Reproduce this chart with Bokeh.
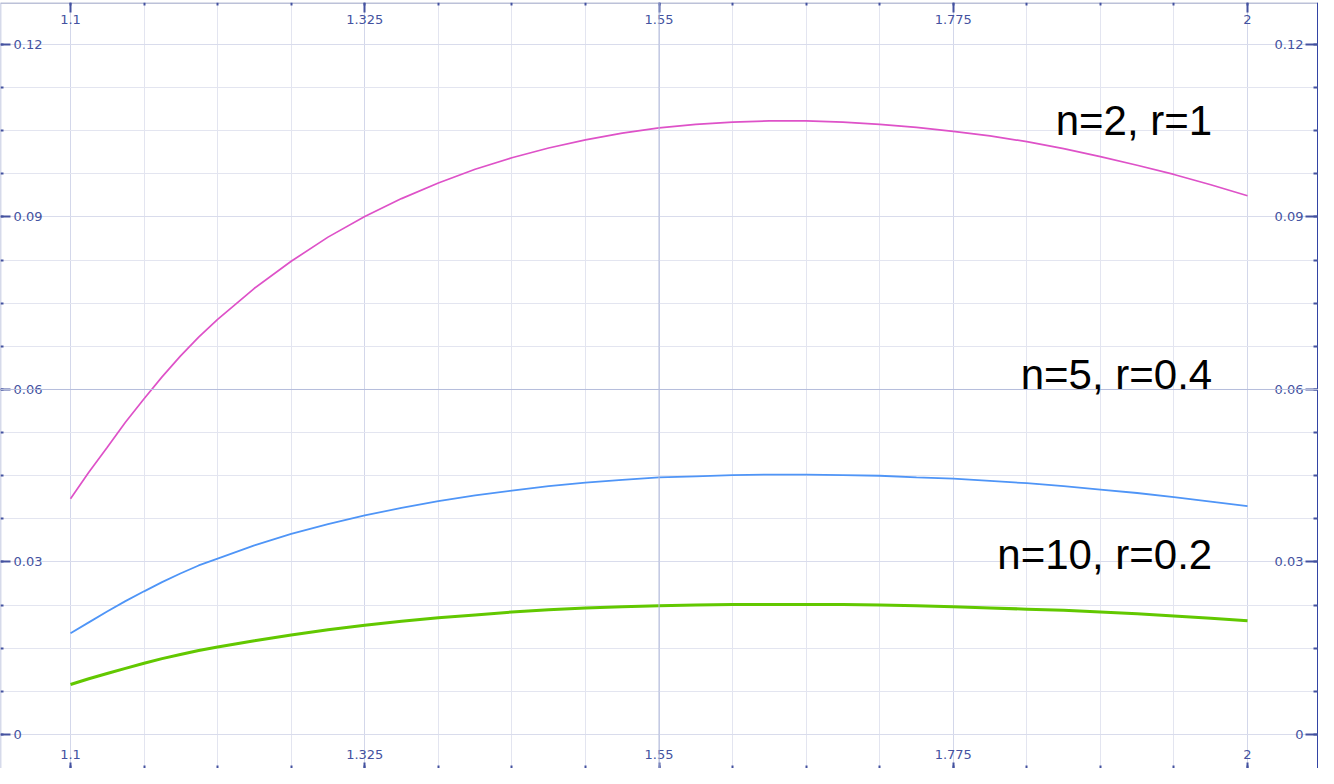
from bokeh.plotting import figure
from bokeh.models import (LinearAxis, FixedTicker, Range1d, Label, Span, Grid)
from bokeh.embed import file_html
from bokeh.resources import INLINE

# ---- data ----
x_vals = [1.1, 1.114, 1.128, 1.142, 1.15625, 1.170, 1.184, 1.198, 1.2125,
          1.2406, 1.26875, 1.2969, 1.325, 1.3531, 1.38125, 1.4094, 1.4375,
          1.4656, 1.49375, 1.5219, 1.55, 1.5781, 1.60625, 1.6344, 1.6625,
          1.6906, 1.71875, 1.7469, 1.775, 1.8031, 1.83125, 1.8594, 1.8875,
          1.9156, 1.94375, 1.9719, 2.0]
pink_vals = [0.0410, 0.0456, 0.0499, 0.0543, 0.0584, 0.0622, 0.0658, 0.0691,
             0.0722, 0.0776, 0.0823, 0.0865, 0.0901, 0.0932, 0.0959, 0.0983,
             0.1003, 0.1020, 0.1034, 0.1046, 0.1055, 0.1061, 0.1065, 0.1067,
             0.1067, 0.1065, 0.1061, 0.1056, 0.1049, 0.1041, 0.1031, 0.1019,
             0.1005, 0.0990, 0.0974, 0.0956, 0.0937]
blue_vals = [0.0176, 0.0195, 0.0214, 0.0232, 0.0249, 0.0265, 0.0280, 0.0294,
             0.0306, 0.0329, 0.0349, 0.0366, 0.0381, 0.0394, 0.0406, 0.0416,
             0.0424, 0.0432, 0.0438, 0.0443, 0.0447, 0.0449, 0.0451, 0.0452,
             0.0452, 0.0451, 0.0450, 0.0447, 0.0445, 0.0441, 0.0437, 0.0432,
             0.0426, 0.0420, 0.0413, 0.0405, 0.0397]
green_vals = [0.0087, 0.0097, 0.0106, 0.0115, 0.0124, 0.0132, 0.0139, 0.0146,
              0.0152, 0.0163, 0.0173, 0.0182, 0.0190, 0.0197, 0.0203, 0.0208,
              0.0213, 0.0217, 0.0220, 0.0222, 0.0224, 0.0225, 0.0226, 0.0226,
              0.0226, 0.0226, 0.0225, 0.0224, 0.0222, 0.0220, 0.0218, 0.0216,
              0.0213, 0.0210, 0.0206, 0.0202, 0.0198]
series_labels = ["n=2, r=1", "n=5, r=0.4", "n=10, r=0.2"]

x_ticks = [1.1, 1.325, 1.55, 1.775, 2.0]
x_tick_labels = ["1.1", "1.325", "1.55", "1.775", "2"]
x_minor = [1.04375, 1.1, 1.15625, 1.2125, 1.26875, 1.325, 1.38125, 1.4375,
           1.49375, 1.55, 1.60625, 1.6625, 1.71875, 1.775, 1.83125, 1.8875,
           1.94375, 2.0]
y_ticks = [0.0, 0.03, 0.06, 0.09, 0.12]
y_tick_labels = ["0", "0.03", "0.06", "0.09", "0.12"]
y_minor = [0.0, 0.0075, 0.015, 0.0225, 0.03, 0.0375, 0.045, 0.0525, 0.06,
           0.0675, 0.075, 0.0825, 0.09, 0.0975, 0.105, 0.1125, 0.12]

X0, X1 = 1.04647, 2.05429
Y0, Y1 = -0.005913, 0.127304

p = figure(width=1318, height=768, output_backend="svg", toolbar_location=None,
           x_range=Range1d(X0, X1), y_range=Range1d(Y0, Y1),
           x_axis_location=None, y_axis_location=None,
           min_border_left=0, min_border_right=0, min_border_top=2,
           min_border_bottom=0)
p.outline_line_color = None
p.background_fill_color = "white"
p.border_fill_color = "white"
p.center = []

xt = FixedTicker(ticks=x_ticks, minor_ticks=x_minor)
yt = FixedTicker(ticks=y_ticks, minor_ticks=y_minor)
gx = Grid(dimension=0, ticker=xt, grid_line_color="#d3d7ea", grid_line_width=1,
          minor_grid_line_color="#e3e5f0", minor_grid_line_width=1)
gy = Grid(dimension=1, ticker=yt, grid_line_color="#d9dcec", grid_line_width=1,
          minor_grid_line_color="#e3e5f0", minor_grid_line_width=1)
p.add_layout(gx)
p.add_layout(gy)
p.add_layout(Span(location=x_ticks[2], dimension="height", line_color="#b6bedc", line_width=1))
p.add_layout(Span(location=y_ticks[2], dimension="width", line_color="#b6bedc", line_width=1))

# curves
p.line(x_vals, pink_vals, line_color="#de52c8", line_width=1.7)
p.line(x_vals, blue_vals, line_color="#4f95f7", line_width=1.8)
p.line(x_vals, green_vals, line_color="#62c800", line_width=3)

label_color = "#4452a0"
font = "DejaVu Sans"

def style(ax, tick_out, minor_out, standoff):
    ax.major_tick_out = tick_out
    ax.major_tick_in = 0
    ax.minor_tick_out = minor_out
    ax.minor_tick_in = 0
    ax.major_label_standoff = standoff
    ax.major_label_text_font = font
    ax.major_label_text_font_size = "13px"
    ax.major_label_text_color = label_color
    ax.major_tick_line_color = "#4452a0"
    ax.minor_tick_line_color = "#4452a0"
    ax.major_tick_line_width = 2
    ax.minor_tick_line_width = 2

top = LinearAxis(ticker=FixedTicker(ticks=x_ticks, minor_ticks=x_minor),
                 major_label_overrides=dict(zip(x_ticks, x_tick_labels)),
                 fixed_location=Y1)
style(top, 10, 3, 2)
top.axis_line_color = "#bcc1d8"
top.axis_line_width = 3
p.add_layout(top, "below")

bot = LinearAxis(ticker=FixedTicker(ticks=x_ticks, minor_ticks=x_minor),
                 major_label_overrides=dict(zip(x_ticks, x_tick_labels)),
                 fixed_location=Y0)
style(bot, 6, 3, 4)
bot.axis_line_color = None
p.add_layout(bot, "above")

lft = LinearAxis(ticker=FixedTicker(ticks=y_ticks, minor_ticks=y_minor),
                 major_label_overrides=dict(zip(y_ticks, y_tick_labels)),
                 fixed_location=X0)
style(lft, 10, 3, 3)
lft.axis_line_color = "#aeb6d6"
lft.axis_line_width = 1.5
lft.major_label_orientation = "horizontal"
p.add_layout(lft, "right")

rgt = LinearAxis(ticker=FixedTicker(ticks=y_ticks, minor_ticks=y_minor),
                 major_label_overrides=dict(zip(y_ticks, y_tick_labels)),
                 fixed_location=X1)
style(rgt, 13, 5, 2)
rgt.axis_line_color = "#3344a4"
rgt.axis_line_width = 3
rgt.major_label_orientation = "horizontal"
p.add_layout(rgt, "left")

# series annotations
label_pos = [(1.973, 0.1068), (1.973, 0.0626), (1.973, 0.0313)]
for (lx, ly), txt in zip(label_pos, series_labels):
    p.add_layout(Label(x=lx, y=ly, text=txt, text_align="right",
                       text_baseline="alphabetic", text_font="Liberation Sans",
                       text_font_size="42px", text_color="black"))

open("out.html", "w").write(file_html(p, INLINE))
